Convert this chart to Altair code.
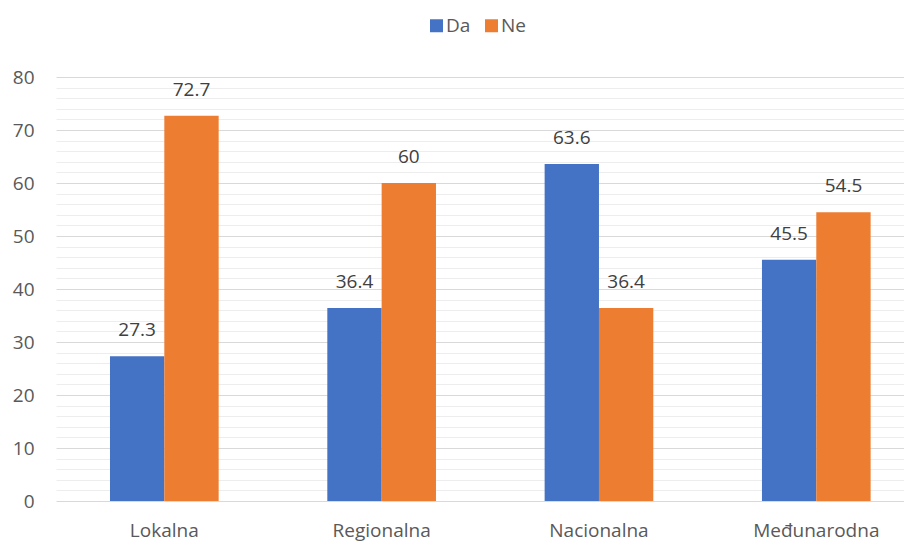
import altair as alt
import pandas as pd

categories = ["Lokalna", "Regionalna", "Nacionalna", "Međunarodna"]
series_names = ["Da", "Ne"]
da_values = [27.3, 36.4, 63.6, 45.5]
ne_values = [72.7, 60, 36.4, 54.5]
series_colors = ["#4472C4", "#ED7D31"]

rows = []
for c, d, n in zip(categories, da_values, ne_values):
    rows.append({"category": c, "series": "Da", "value": d})
    rows.append({"category": c, "series": "Ne", "value": n})
df = pd.DataFrame(rows)

FONT = "Open Sans"

x_enc = alt.X(
    "category:N",
    sort=categories,
    scale=alt.Scale(paddingInner=0.5, paddingOuter=0.201, align=0.618),
    axis=alt.Axis(title=None, labelAngle=0, ticks=False, domain=False,
                  labelPadding=20, labelFontSize=19, labelColor="#595959",
                  labelFont=FONT, grid=False),
)
xoff = alt.XOffset("series:N", sort=series_names,
                   scale=alt.Scale(domain=series_names, paddingInner=0, paddingOuter=0))
y_enc = alt.Y(
    "value:Q",
    scale=alt.Scale(domain=[0, 80], nice=False),
    axis=alt.Axis(
        title=None,
        values=list(range(0, 81, 2)),
        labelExpr="datum.value % 10 === 0 ? datum.label : ''",
        gridColor={"condition": {"test": "datum.value % 10 === 0", "value": "#d9d9d9"}, "value": "#ededed"},
        gridWidth=1,
        domain=False, ticks=False, labelPadding=22,
        labelFontSize=19, labelColor="#595959", labelFont=FONT,
    ),
)

base = alt.Chart(df).encode(x=x_enc, xOffset=xoff, y=y_enc)

bars = base.mark_bar().encode(
    color=alt.Color("series:N", sort=series_names,
                    scale=alt.Scale(domain=series_names, range=series_colors),
                    legend=alt.Legend(title=None, orient="none", direction="horizontal",
                                      legendX=371, legendY=-61,
                                      symbolType="square", symbolSize=169,
                                      symbolStrokeWidth=0, labelFontSize=19,
                                      labelFont=FONT, labelColor="#595959",
                                      columnPadding=11, labelOffset=0,
                                      padding=0)),
)

labels = base.mark_text(baseline="alphabetic", dy=-20, fontSize=19, font=FONT,
                        color="#404040").encode(
    text=alt.Text("value:Q", format=".1~f"),
)

chart = alt.layer(bars, labels).properties(
    width=848, height=424,
    padding={"left": 4, "top": 8, "right": 0, "bottom": 5},
).configure_view(stroke=None)

chart.save("out.html", embed_options={"renderer": "svg", "actions": False})
